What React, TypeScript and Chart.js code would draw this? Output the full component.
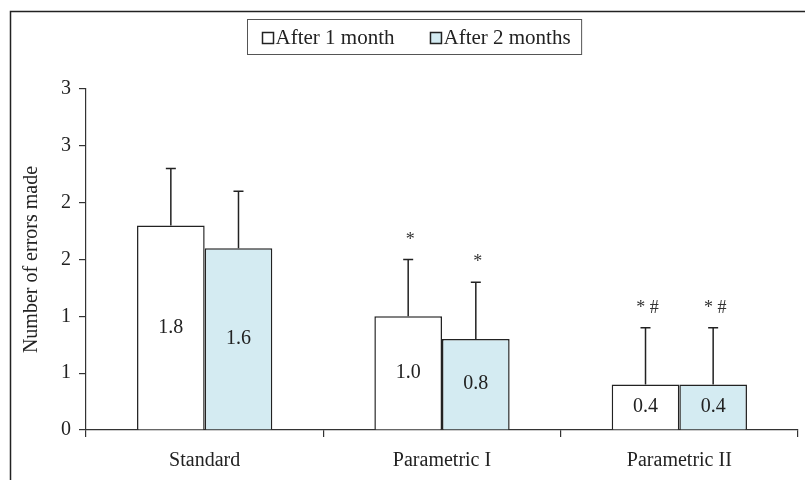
import { useEffect, useRef } from "react";
import { Chart, registerables } from "chart.js";

Chart.register(...registerables);

const categories = ["Standard", "Parametric I", "Parametric II"];
const seriesNames = ["After 1 month", "After 2 months"];
const month1 = [1.8, 1.0, 0.4];
const month2 = [1.6, 0.8, 0.4];
const month1Err = [0.5, 0.5, 0.5];
const month2Err = [0.5, 0.5, 0.5];
const month1Marks = ["", "*", "* #"];
const month2Marks = ["", "*", "* #"];
const yTickLabels = ["0", "1", "1", "2", "2", "3", "3"];

const errs = [month1Err, month2Err];
const marks = [month1Marks, month2Marks];
const fills = ["#ffffff", "#d4ebf2"];
const FONT = '"Liberation Serif", "Times New Roman", serif';
const INK = "#222222";

const overlay = {
  id: "overlay",
  afterDatasetsDraw(chart: any) {
    const ctx = chart.ctx;
    const y = chart.scales.y;
    chart.data.datasets.forEach((ds: any, di: number) => {
      const meta = chart.getDatasetMeta(di);
      meta.data.forEach((bar: any, i: number) => {
        const v = ds.data[i];
        const top = y.getPixelForValue(v + errs[di][i]);
        ctx.save();
        ctx.strokeStyle = INK;
        ctx.lineWidth = 1.5;
        ctx.beginPath();
        ctx.moveTo(bar.x, bar.y);
        ctx.lineTo(bar.x, top);
        ctx.moveTo(bar.x - 5, top);
        ctx.lineTo(bar.x + 5, top);
        ctx.stroke();
        ctx.fillStyle = INK;
        ctx.font = `20px ${FONT}`;
        ctx.textAlign = "center";
        ctx.textBaseline = "middle";
        ctx.fillText(v.toFixed(1), bar.x, (bar.y + bar.base) / 2);
        const m = marks[di][i];
        if (m) {
          ctx.fillStyle = "#333";
          ctx.font = `18px ${FONT}`;
          ctx.textBaseline = "alphabetic";
          ctx.fillText(m, bar.x + 2, top - 15);
        }
        ctx.restore();
      });
    });
  },
  afterDraw(chart: any) {
    const ctx = chart.ctx;
    ctx.save();
    // outer frame
    ctx.strokeStyle = INK;
    ctx.lineWidth = 1.5;
    ctx.beginPath();
    ctx.moveTo(10.5, chart.height);
    ctx.lineTo(10.5, 11.5);
    ctx.lineTo(chart.width, 11.5);
    ctx.stroke();
    // legend
    ctx.font = `21px ${FONT}`;
    const sq = 11;
    const gapText = 2;
    const gapItems = 36;
    const widths = seriesNames.map((s) => ctx.measureText(s).width);
    const inner = widths.reduce((a, w) => a + sq + gapText + w, 0) + gapItems;
    const padL = 15;
    const padR = 11;
    const boxW = inner + padL + padR;
    const cx = 414;
    const boxL = Math.round(cx - boxW / 2) + 0.5;
    const boxT = 19.5;
    const boxH = 35;
    ctx.strokeStyle = "#555";
    ctx.lineWidth = 1;
    ctx.strokeRect(boxL, boxT, boxW, boxH);
    let x = boxL + padL;
    const base = boxT + 24;
    seriesNames.forEach((s, i) => {
      ctx.fillStyle = fills[i];
      ctx.fillRect(x, base - 11, sq, sq);
      ctx.strokeStyle = INK;
      ctx.lineWidth = 1.5;
      ctx.strokeRect(x, base - 11, sq, sq);
      ctx.fillStyle = INK;
      ctx.textAlign = "left";
      ctx.textBaseline = "alphabetic";
      ctx.fillText(s, x + sq + gapText, base);
      x += sq + gapText + widths[i] + gapItems;
    });
    ctx.restore();
  },
};

export default function App() {
  const ref = useRef<HTMLCanvasElement | null>(null);
  useEffect(() => {
    document.body.style.margin = "0";
    const canvas = ref.current!;
    const chart = new Chart(canvas, {
      type: "bar",
      data: {
        labels: categories,
        datasets: [
          {
            label: seriesNames[0],
            data: month1,
            backgroundColor: fills[0],
            borderColor: INK,
            borderWidth: 1.5,
          },
          {
            label: seriesNames[1],
            data: month2,
            backgroundColor: fills[1],
            borderColor: INK,
            borderWidth: 1.5,
          },
        ],
      },
      options: {
        responsive: false,
        animation: false,
        layout: { padding: { top: 89, right: 7, left: 0, bottom: 0 } },
        datasets: { bar: { barPercentage: 1, categoryPercentage: 0.57 } },
        plugins: { legend: { display: false }, tooltip: { enabled: false } },
        scales: {
          x: {
            offset: true,
            grid: {
              offset: true,
              drawOnChartArea: false,
              drawTicks: true,
              tickLength: 7,
              color: "#333",
              lineWidth: 1.2,
            },
            border: { color: "#333", width: 1.2 },
            ticks: { color: INK, font: { family: FONT, size: 20 }, padding: 12 },
            afterFit(scale: any) {
              scale.height = 50;
            },
          },
          y: {
            min: 0,
            max: 3,
            grid: {
              drawOnChartArea: false,
              drawTicks: true,
              tickLength: 7,
              color: "#333",
              lineWidth: 1.2,
            },
            border: { color: "#333", width: 1.2 },
            ticks: {
              stepSize: 0.5,
              color: INK,
              font: { family: FONT, size: 20 },
              padding: 8,
              callback: (_v: any, i: number) => yTickLabels[i],
            },
            title: {
              display: true,
              text: "Number of errors made",
              color: INK,
              font: { family: FONT, size: 20 },
              padding: { top: 20, bottom: 0 },
            },
            afterFit(scale: any) {
              scale.width = 86;
            },
          },
        },
      },
      plugins: [overlay],
    });
    return () => chart.destroy();
  }, []);
  return (
    <div style={{ width: 805, height: 480 }}>
      <canvas ref={ref} width={805} height={480} />
    </div>
  );
}
